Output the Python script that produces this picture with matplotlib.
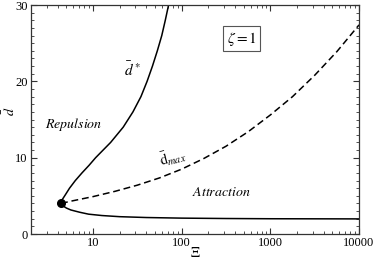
#!/usr/bin/env python3
"""Phase diagram: d-bar versus Xi for zeta = 1."""

import matplotlib

matplotlib.use("Agg")
import matplotlib.pyplot as plt
from matplotlib.ticker import FixedLocator, LogLocator, NullFormatter

# upper solid branch (d*)
xi_upper = [4.36, 4.49, 4.79, 5.43, 6.31, 7.50, 9.02, 10.7, 13.0, 15.8, 21.9,
            28.2, 34.7, 40.7, 46.8, 53.1, 59.6, 65.3, 71.1, 74.1]
d_upper = [4.0, 4.5, 5, 6, 7, 8, 9, 10, 11, 12, 14, 16, 18, 20, 22, 24, 26, 28, 30, 31]

# lower solid branch
xi_lower = [4.36, 4.57, 5.01, 5.62, 7.08, 8.91, 12.6, 20.0, 39.8, 100, 316, 1000, 10000]
d_lower = [4.0, 3.7, 3.4, 3.15, 2.85, 2.6, 2.42, 2.27, 2.16, 2.08, 2.03, 2.0, 1.98]

# dashed branch (d_max)
xi_max = [4.36, 5.62, 10, 17.8, 31.6, 56.2, 100, 178, 316, 562, 1000, 1778,
          3162, 5623, 10000]
d_max = [4.0, 4.3, 4.9, 5.6, 6.4, 7.35, 8.5, 9.9, 11.5, 13.4, 15.6, 18.0,
         20.8, 23.9, 27.4]

critical_point = (4.36, 4.0)

plt.rcParams["font.family"] = ["Liberation Serif", "DejaVu Serif"]
plt.rcParams["mathtext.fontset"] = "stix"

fig = plt.figure(figsize=(3.74, 2.59), dpi=100)
ax = fig.add_axes([0.083, 0.0965, 0.877, 0.884])

ax.plot(xi_upper, d_upper, color="black", lw=1.1)
ax.plot(xi_lower, d_lower, color="black", lw=1.1)
ax.plot(xi_max, d_max, color="black", lw=1.1, dashes=(4.5, 2.5))
ax.plot(*critical_point, "o", color="black", ms=5.5)

ax.set_xscale("log")
ax.set_xlim(2, 10000)
ax.set_ylim(0, 30)
ax.xaxis.set_major_locator(FixedLocator([10, 100, 1000, 10000]))
ax.xaxis.set_minor_locator(LogLocator(base=10, subs=range(2, 10), numticks=20))
ax.xaxis.set_minor_formatter(NullFormatter())
ax.set_xticklabels(["10", "100", "1000", "10000"])
ax.yaxis.set_major_locator(FixedLocator([0, 10, 20, 30]))
ax.yaxis.set_minor_locator(FixedLocator(range(0, 31)))

ax.tick_params(which="both", direction="in", top=True, right=True,
               labelsize=9, color="#333333", pad=2.5)
ax.tick_params(which="major", length=4.5, width=0.8)
ax.tick_params(which="minor", length=2.5, width=0.6)
for spine in ax.spines.values():
    spine.set_color("#333333")
    spine.set_linewidth(0.9)

# axis labels placed in figure coordinates so they stay inside the canvas
fig.text(0.026, 0.57, r"$\bar{d}$", fontsize=10, rotation=90,
         ha="center", va="center")
fig.text(0.521, 0.024, r"$\Xi$", fontsize=10, ha="center", va="center")

ax.text(6.0, 14.3, r"$\mathit{Repulsion}$", fontsize=10, ha="center", va="center")
ax.text(277, 5.4, r"$\mathit{Attraction}$", fontsize=10, ha="center", va="center")
ax.text(27.7, 21.6, r"$\bar{d}^{\,*}$", fontsize=11, ha="center", va="center")
ax.text(78, 10.1, r"$\bar{\mathrm{d}}_{max}$", fontsize=10.5, ha="center", va="center",
        rotation=14)
ax.text(472, 25.6, r"$\zeta = 1$", fontsize=11, ha="center", va="center",
        bbox=dict(boxstyle="square,pad=0.25", fc="white", ec="#555555", lw=0.8))

fig.savefig("out.png", dpi=100)
